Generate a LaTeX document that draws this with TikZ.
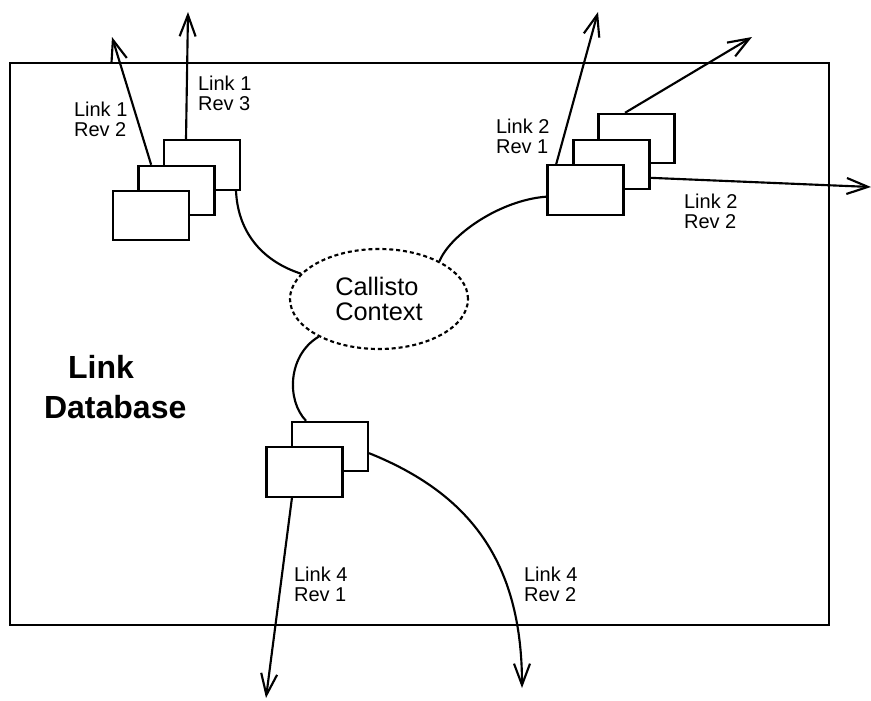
\documentclass[tikz,border=0pt]{standalone}
\usepackage{fontspec}
\setmainfont{Liberation Sans}
\usetikzlibrary{shapes.geometric,arrows.meta}

\tikzset{
  rev/.style={shape=rectangle, draw, fill=white, minimum width=57pt, minimum height=37pt, inner sep=0pt},
  lbl/.style={align=left, anchor=west, inner sep=0pt, font=\fontsize{15pt}{15pt}\selectfont},
}

\begin{document}
\begin{tikzpicture}[x=0.75pt, y=-0.75pt, line width=1.6pt, >={Straight Barb[length=16pt,width=12pt]}]
\useasboundingbox (0,0) rectangle (871,700);
\draw (10,63) rectangle (829,625);

% link 1
\node at (202,165) [rev] (l1c) {};
\node at (176.5,190.5) [rev] (l1b) {};
\node at (151,215.5) [rev] (l1a) {};
% link 2
\node at (636.5,138.5) [rev] (l2c) {};
\node at (611.5,164.5) [rev] (l2b) {};
\node at (585.5,190) [rev] (l2a) {};
% link 4
\node at (330,446.5) [rev] (l4b) {};
\node at (304.5,472) [rev] (l4a) {};

\node at (379,299) [shape=ellipse, draw, dash pattern=on 3pt off 2.2pt, minimum width=133.5pt, minimum height=75pt, inner sep=0pt, align=left, font=\fontsize{19pt}{18.75pt}\selectfont] (ctx) {Callisto\\Context};

\node at (43,387) [align=left, anchor=west, inner sep=0pt, font=\fontsize{24pt}{30pt}\selectfont\bfseries] (db) {\hspace*{18pt}Link\\Database};
\node at (73,119.5) [lbl] (n12) {Link 1\\Rev 2};
\node at (197,93.5) [lbl] (n13) {Link 1\\Rev 3};
\node at (495,136.5) [lbl] (n21) {Link 2\\Rev 1};
\node at (683,211.5) [lbl] (n22) {Link 2\\Rev 2};
\node at (293,584.5) [lbl] (n41) {Link 4\\Rev 1};
\node at (523,584.5) [lbl] (n42) {Link 4\\Rev 2};

\coordinate (t12) at (112,37);
\coordinate (t13) at (188,12);
\coordinate (t21) at (598,12);
\coordinate (t23) at (752,37);
\coordinate (t22) at (871,187);
\coordinate (t41) at (266,698);
\coordinate (t42) at (522,688);

\draw [->] ([xshift=-19pt]l1b.north) to (t12);
\draw [->] ([xshift=-12pt]l1c.north) to (t13);
\draw [->] ([xshift=-22pt]l2a.north) to (t21);
\draw [->] ([xshift=-8.6pt]l2c.north) to (t23);
\draw [->] ([yshift=-10pt]l2b.east) to (t22);
\draw [->] ([xshift=-9.4pt]l4a.south) to (t41);
\draw [->] ([yshift=-5pt]l4b.east) .. controls (468,493) and (522,560) .. (t42);

\draw ([xshift=25.5pt]l1c.south) .. controls (238,235) and (265,262) .. (ctx.162);
\draw ([yshift=-5pt]l2a.west) .. controls (500,200) and (450,235) .. (ctx.32);
\draw (ctx.212) .. controls (288,355) and (286,400) .. ([xshift=-18pt]l4b.north);
\end{tikzpicture}
\end{document}
